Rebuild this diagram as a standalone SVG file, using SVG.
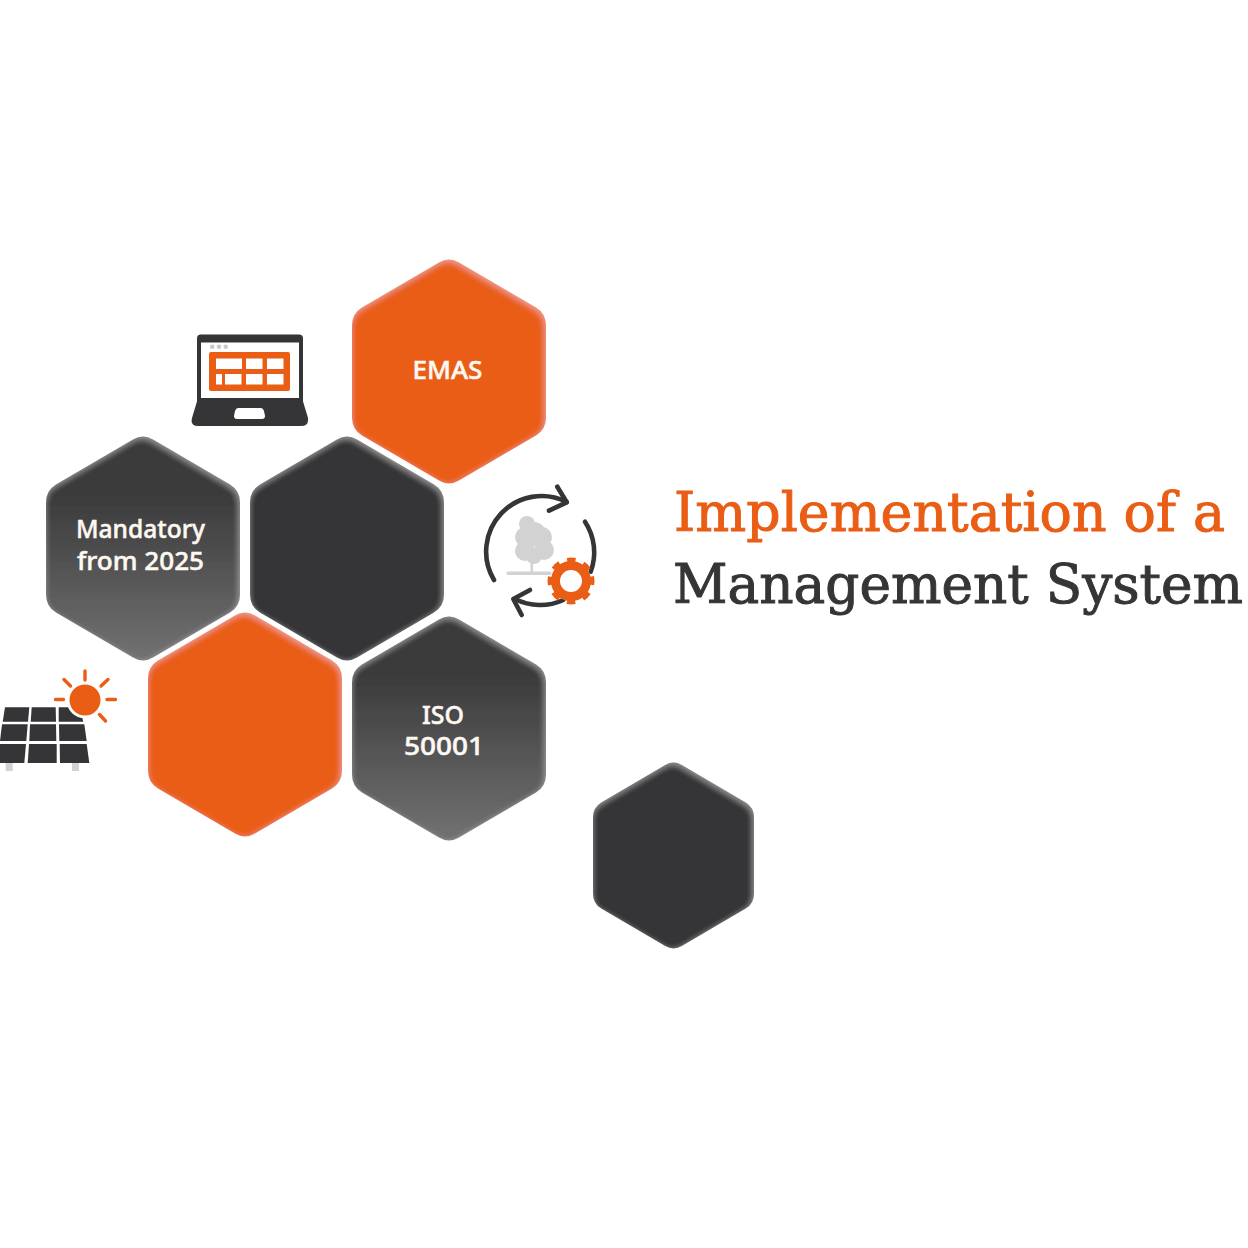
<svg xmlns="http://www.w3.org/2000/svg" width="1248" height="1248" viewBox="0 0 1248 1248">
<style>
.lbl{font-family:"Noto Sans","Open Sans",sans-serif;font-size:25px;font-weight:500;fill:#fdf8f2;stroke:#fdf8f2;stroke-width:.5px;text-anchor:middle}
.ttl{font-family:"DejaVu Serif","Liberation Serif",serif;font-size:55px;stroke-width:1px}
.or{fill:#e95d14}.dk{fill:#353537}.gr{fill:url(#g)}
.ln{fill:none;stroke:#353537;stroke-width:4.6;stroke-linecap:round;stroke-linejoin:round}
.ray{fill:none;stroke:#e95d14;stroke-width:3.4;stroke-linecap:round}
.w{fill:#fff}
.lg{fill:#d2d2d2}
</style>
<defs>
<linearGradient id="g" x1="0" y1="0" x2="0" y2="1">
<stop offset="0.25" stop-color="#3a3a3b"/><stop offset="1" stop-color="#727272"/>
</linearGradient>
<path id="hex" d="M-10-109Q0-115 10-109L87-64Q97-58 97-46V46Q97 58 87 64L10 109Q0 115-10 109L-87 64Q-97 58-97 46V-46Q-97-58-87-64Z"/>
<filter id="bevel" x="-5%" y="-5%" width="110%" height="110%">
<feOffset in="SourceAlpha" dx="-1.500" dy="1.500" result="o"/>
<feGaussianBlur in="o" stdDeviation="3" result="b"/>
<feComposite in="SourceAlpha" in2="b" operator="out" result="e"/>
<feFlood flood-color="#fff" flood-opacity="0.28"/>
<feComposite in2="e" operator="in" result="h"/>
<feMerge><feMergeNode in="SourceGraphic"/><feMergeNode in="h"/></feMerge>
</filter>
</defs>
<rect width="1248" height="1248" fill="#fff"/>
<g id="connectors"/>
<g id="hex-emas" filter="url(#bevel)"><use href="#hex" class="or" transform="translate(449 371.5)"/></g>
<g id="hex-center" filter="url(#bevel)"><use href="#hex" class="dk" transform="translate(347 548.5)"/></g>
<g id="hex-mandatory" filter="url(#bevel)"><use href="#hex" class="gr" transform="translate(143 548.5)"/></g>
<g id="hex-orange" filter="url(#bevel)"><use href="#hex" class="or" transform="translate(245 724.5)"/></g>
<g id="hex-iso" filter="url(#bevel)"><use href="#hex" class="gr" transform="translate(449 728.5)"/></g>
<g id="hex-small" filter="url(#bevel)"><use href="#hex" class="dk" transform="translate(673.5 855.5) scale(.83)"/></g>
<g id="label-emas"><text class="lbl" x="447.500" y="378.500" textLength="70" lengthAdjust="spacingAndGlyphs">EMAS</text></g>
<g id="label-mandatory"><text class="lbl" x="140.500" y="538" textLength="129" lengthAdjust="spacingAndGlyphs">Mandatory</text><text class="lbl" x="140.500" y="570" textLength="127" lengthAdjust="spacingAndGlyphs">from 2025</text></g>
<g id="label-iso"><text class="lbl" x="443" y="723.500" textLength="42" lengthAdjust="spacingAndGlyphs">ISO</text><text class="lbl" x="444" y="754.500" textLength="80" lengthAdjust="spacingAndGlyphs">50001</text></g>
<g id="title">
<text class="ttl" x="674" y="531" fill="#e95d14" stroke="#e95d14" textLength="551" lengthAdjust="spacingAndGlyphs">Implementation of a</text>
<text class="ttl" x="673" y="603" fill="#353537" stroke="#353537" textLength="570" lengthAdjust="spacingAndGlyphs">Management System</text>
</g>
<g id="icon-laptop">
<rect class="dk" x="197" y="334.500" width="106" height="70" rx="4"/>
<rect class="w" x="201" y="342.500" width="98" height="56"/>
<path class="dk" d="M198 398H302L308 418Q309 426 301 426H198Q190 426 192 418Z"/>
<path class="w" d="M238 408H261Q263 408 264 411L265 416Q265 419 262 419H237Q234 419 234 416L235 411Q236 408 238 408Z"/>
<g fill="#c9c9c9"><circle cx="212.300" cy="346.700" r="2.300"/><circle cx="219" cy="346.700" r="2.300"/><circle cx="225.700" cy="346.700" r="2.300"/></g>
<rect class="or" x="209" y="352" width="81" height="39" rx="2"/>
<g class="w"><rect x="216" y="358.500" width="26" height="10.500"/><rect x="246" y="358.500" width="16.500" height="10.500"/><rect x="267" y="358.500" width="16.500" height="10.500"/><rect x="216" y="374" width="6" height="10.500"/><rect x="225" y="374" width="16.500" height="10.500"/><rect x="246" y="374" width="16.500" height="10.500"/><rect x="267" y="374" width="16.500" height="10.500"/></g>
</g>
<g id="icon-cycle">
<g class="lg"><circle cx="527" cy="524" r="8"/><circle cx="525" cy="537" r="10"/><circle cx="542" cy="537" r="10"/><circle cx="534" cy="534" r="12"/><circle cx="525" cy="551" r="10"/><circle cx="544" cy="550" r="10"/><circle cx="534" cy="556" r="8"/><rect x="530.500" y="556" width="2.500" height="17"/><rect x="506.500" y="571.500" width="45" height="3.500" rx="1.700"/></g>
<path class="ln" d="M494 580A55.500 55.500 0 0 1 566.700 502"/>
<path class="ln" d="M557.300 486.700L566.700 502.300L549 510.700"/>
<path class="ln" d="M585 521.700A55.500 55.500 0 0 1 590.700 571.700"/>
<path class="ln" d="M563.300 600A55.500 55.500 0 0 1 515 599"/>
<path class="ln" d="M530 590L513.300 599L521.700 615"/>
<circle cx="571" cy="581" r="15.500" fill="#fff" stroke="#e95d14" stroke-width="9"/>
<circle cx="571" cy="581" r="20.500" fill="none" stroke="#e95d14" stroke-width="6" stroke-dasharray="8 8.100" transform="rotate(-12 571 581)"/>
</g>
<g id="icon-solar">
<g class="dk">
<path d="M5 707.300H29.300L28 721.700H2.700Z"/><path d="M31.700 707.300H55.700L56 721.700H30.700Z"/><path d="M58.700 707.300H80L83.300 721.700H58.700Z"/>
<path d="M2 724.300H27.700L26.300 741H0Z"/><path d="M30 724.300H56L56.300 741H29.300Z"/><path d="M59 724.300H84.300L86.700 741H59.300Z"/>
<path d="M0 744H26L24.300 763H0Z"/><path d="M29 744H56.700V763H27.700Z"/><path d="M59.700 744H86.700L89.300 763H60Z"/>
</g>
<rect class="lg" x="5.700" y="763" width="7" height="8"/><rect class="lg" x="72" y="763" width="7" height="8"/>
<circle class="w" cx="85" cy="700" r="18.500"/>
<circle class="or" cx="85" cy="700" r="15.500"/>
<path class="ray" d="M85 671V680M107 699.500H115.500M55.500 699.500H63.500M101 686L108 679.500M70.500 686L64 679.500M99.500 714.500L105.500 721"/>
</g>
</svg>
